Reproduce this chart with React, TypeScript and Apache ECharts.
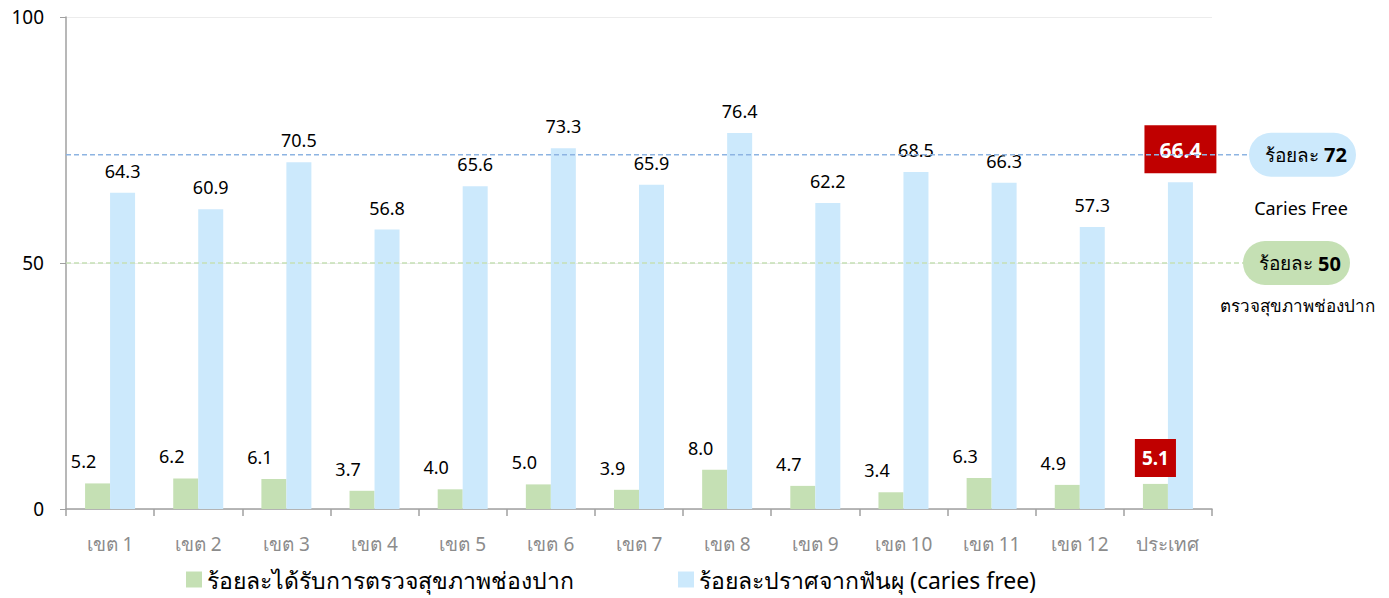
import React, { useEffect, useRef } from "react";
import * as echarts from "echarts";

const categories = ["เขต 1", "เขต 2", "เขต 3", "เขต 4", "เขต 5", "เขต 6", "เขต 7", "เขต 8", "เขต 9", "เขต 10", "เขต 11", "เขต 12", "ประเทศ"];
const checkupValues = [5.2, 6.2, 6.1, 3.7, 4.0, 5.0, 3.9, 8.0, 4.7, 3.4, 6.3, 4.9, 5.1];
const cariesFreeValues = [64.3, 60.9, 70.5, 56.8, 65.6, 73.3, 65.9, 76.4, 62.2, 68.5, 66.3, 57.3, 66.4];
const checkupName = "ร้อยละได้รับการตรวจสุขภาพช่องปาก";
const cariesFreeName = "ร้อยละปราศจากฟันผุ (caries free)";
const cariesTarget = 72;
const checkupTarget = 50;
const yTicks = [0, 50, 100];

const FONT = "'Noto Sans', sans-serif";
const GREEN = "#c5e0b4";
const BLUE = "#cce9fc";
const RED = "#c00000";

export default function App() {
  const ref = useRef<HTMLDivElement>(null);
  useEffect(() => {
    document.body.style.margin = "0";
    const chart = echarts.init(ref.current!, null, { renderer: "svg" });
    const last = categories.length - 1;
    const fmt = (p: any) => Number(p.value).toFixed(1);
    const option: any = {
      animation: false,
      textStyle: { fontFamily: FONT },
      grid: { left: 66, right: 177, top: 17, bottom: 89 },
      legend: {
        bottom: 2,
        left: 181,
        itemWidth: 16,
        itemHeight: 16,
        itemGap: 104,
        icon: "rect",
        textStyle: { fontSize: 23, color: "#000", fontFamily: FONT },
        data: [checkupName, cariesFreeName],
      },
      xAxis: {
        type: "category",
        data: categories,
        axisLine: { lineStyle: { color: "#a0a0a0", width: 1.5 } },
        axisTick: { show: true, length: 7, lineStyle: { color: "#a0a0a0", width: 1.5 } },
        axisLabel: { color: "#8c8c8c", fontSize: 19, margin: 25, fontFamily: FONT },
      },
      yAxis: {
        type: "value",
        min: yTicks[0],
        max: yTicks[yTicks.length - 1],
        interval: yTicks[1] - yTicks[0],
        axisLine: { show: true, lineStyle: { color: "#a0a0a0", width: 1.5 } },
        axisTick: { show: true, length: 6, lineStyle: { color: "#a0a0a0" } },
        axisLabel: { color: "#000", fontSize: 19, margin: 22, fontFamily: FONT },
        splitLine: { show: true, lineStyle: { color: "#ececec" } },
      },
      series: [
        {
          name: checkupName,
          type: "bar",
          barWidth: 25,
          barGap: "0%",
          itemStyle: { color: GREEN },
          label: {
            show: true,
            position: "top",
            offset: [-14, -8],
            color: "#000",
            fontSize: 18,
            fontFamily: FONT,
            formatter: fmt,
          },
          data: checkupValues.map((v, i) =>
            i === last
              ? {
                  value: v,
                  label: {
                    offset: [0, 0],
                    distance: 7,
                    backgroundColor: RED,
                    color: "#fff",
                    fontWeight: "bold",
                    fontSize: 19,
                    padding: [10, 7, 9, 7],
                  },
                }
              : v
          ),
        },
        {
          name: cariesFreeName,
          type: "bar",
          barWidth: 25,
          itemStyle: { color: BLUE },
          label: {
            show: true,
            position: "top",
            offset: [0, -8],
            color: "#000",
            fontSize: 18,
            fontFamily: FONT,
            formatter: fmt,
          },
          data: cariesFreeValues.map((v, i) =>
            i === last
              ? {
                  value: v,
                  label: {
                    offset: [0, 0],
                    distance: 9,
                    backgroundColor: RED,
                    color: "#fff",
                    fontWeight: "bold",
                    fontSize: 21,
                    padding: [14, 15, 13, 15],
                  },
                }
              : v
          ),
        },
      ],
    };
    chart.setOption(option);

    const yBlue = chart.convertToPixel({ yAxisIndex: 0 }, cariesTarget) as number;
    const yGreen = chart.convertToPixel({ yAxisIndex: 0 }, checkupTarget) as number;
    const x0 = 66;
    const pillRich = {
      n: { fontSize: 19, fontFamily: FONT, fill: "#000" },
      b: { fontSize: 20, fontFamily: FONT, fontWeight: "bold", fill: "#000" },
    };
    chart.setOption({
      graphic: [
        {
          type: "line",
          z: 5,
          shape: { x1: x0, y1: yBlue, x2: 1250, y2: yBlue },
          style: { stroke: "#8db4e2", lineWidth: 1.5, lineDash: [5, 3] },
        },
        {
          type: "line",
          z: 5,
          shape: { x1: x0, y1: yGreen, x2: 1244, y2: yGreen },
          style: { stroke: GREEN, lineWidth: 1.5, lineDash: [5, 3] },
        },
        {
          type: "rect",
          z: 10,
          shape: { x: 1249, y: yBlue - 22, width: 107, height: 44, r: 22 },
          style: { fill: BLUE },
        },
        {
          type: "text",
          z: 11,
          x: 1347,
          y: yBlue,
          style: {
            text: "{n|ร้อยละ }{b|" + cariesTarget + "}",
            align: "right",
            verticalAlign: "middle",
            rich: pillRich,
          },
        },
        {
          type: "text",
          z: 11,
          x: 1301,
          y: yBlue + 53,
          style: { text: "Caries Free", align: "center", verticalAlign: "middle", fontSize: 18, fontFamily: FONT, fill: "#000" },
        },
        {
          type: "rect",
          z: 10,
          shape: { x: 1243, y: yGreen - 22, width: 107, height: 44, r: 22 },
          style: { fill: GREEN },
        },
        {
          type: "text",
          z: 11,
          x: 1341,
          y: yGreen,
          style: {
            text: "{n|ร้อยละ }{b|" + checkupTarget + "}",
            align: "right",
            verticalAlign: "middle",
            rich: pillRich,
          },
        },
        {
          type: "text",
          z: 11,
          x: 1297,
          y: yGreen + 42,
          style: { text: "ตรวจสุขภาพช่องปาก", align: "center", verticalAlign: "middle", fontSize: 17, fontFamily: FONT, fill: "#000" },
        },
      ],
    });
    return () => chart.dispose();
  }, []);
  return <div ref={ref} style={{ width: 1389, height: 598 }} />;
}
